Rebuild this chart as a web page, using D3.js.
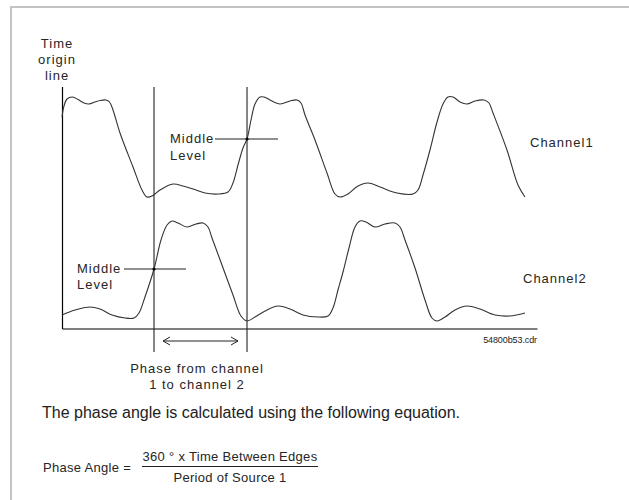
<!DOCTYPE html>
<html>
<head>
<meta charset="utf-8">
<script src="https://cdn.jsdelivr.net/npm/d3@7"></script>
<style>
  html, body { margin: 0; padding: 0; background: #fff; }
  svg { display: block; }
  .lbl { font-family: "Liberation Sans Narrow", "Arial Narrow", "Liberation Sans", Arial, sans-serif; font-size: 13px; letter-spacing: 1px; fill: #262626; }
  .sent { font-family: "Liberation Sans", Arial, sans-serif; font-size: 16px; fill: #222; }
  .eq { font-family: "Liberation Sans Narrow", "Arial Narrow", "Liberation Sans", Arial, sans-serif; font-size: 13px; letter-spacing: 0.3px; fill: #262626; }
</style>
</head>
<body>
<script>
// ---- data ----
const ch1Time  = [0, 0.42, 1.05, 2.25, 3.37, 4.63, 5.68, 6.95, 8.0, 9.26, 10.0, 10.74, 12.21, 14.95, 16.84, 17.89, 18.95, 20.63, 23.37, 25.47, 27.58, 30.1, 32.84, 34.95, 36.0, 37.05, 38.1, 38.95, 39.79, 40.63, 41.68, 42.53, 43.79, 45.89, 48.0, 49.47, 50.32, 51.16, 53.26, 55.79, 57.47, 58.53, 60.21, 62.32, 64.42, 66.95, 70.53, 73.9, 74.95, 76.0, 77.47, 78.95, 80.21, 81.26, 82.32, 83.79, 85.26, 86.95, 88.84, 89.89, 90.74, 93.68, 96.0, 97.47];
const ch1Level = [0.80, 0.91, 0.98, 1.00, 0.975, 0.94, 0.93, 0.95, 0.965, 0.97, 0.95, 0.87, 0.64, 0.30, 0.07, 0.0, 0.01, 0.07, 0.13, 0.11, 0.08, 0.04, 0.03, 0.05, 0.14, 0.32, 0.49, 0.58, 0.77, 0.93, 1.0, 1.0, 0.97, 0.93, 0.96, 0.97, 0.94, 0.82, 0.57, 0.24, 0.03, 0.0, 0.03, 0.11, 0.14, 0.10, 0.04, 0.03, 0.07, 0.22, 0.47, 0.75, 0.93, 1.0, 1.0, 0.95, 0.93, 0.96, 0.97, 0.94, 0.84, 0.47, 0.12, 0.0];
const ch2Time  = [0, 2.74, 5.89, 8.0, 10.53, 13.26, 15.16, 16.21, 17.47, 19.37, 20.84, 22.11, 23.16, 24.42, 26.32, 28.21, 29.68, 30.74, 31.58, 33.68, 36.0, 37.68, 38.95, 40.63, 42.74, 45.47, 48.0, 50.74, 53.89, 56.0, 57.05, 58.1, 59.16, 60.42, 61.68, 62.74, 64.0, 65.89, 68.0, 70.1, 71.16, 72.21, 74.32, 76.42, 77.89, 78.95, 80.63, 82.74, 85.26, 88.0, 91.16, 94.32, 97.47];
const ch2Level = [0.06, 0.11, 0.14, 0.12, 0.06, 0.03, 0.03, 0.08, 0.24, 0.52, 0.81, 0.96, 1.0, 0.98, 0.94, 0.97, 0.98, 0.94, 0.83, 0.56, 0.26, 0.05, 0.0, 0.04, 0.10, 0.15, 0.12, 0.06, 0.04, 0.05, 0.13, 0.31, 0.49, 0.73, 0.94, 1.0, 0.99, 0.94, 0.97, 0.98, 0.94, 0.81, 0.53, 0.21, 0.03, 0.0, 0.04, 0.11, 0.15, 0.12, 0.06, 0.05, 0.08];
const originTime = 0;
const ch1EdgeTime = 38.95;
const ch2EdgeTime = 19.37;
const ch1Middle = 0.58;
const ch2Middle = 0.52;
const channelLabels = ["Channel1", "Channel2"];
const fileLabel = "54800b53.cdr";

// ---- layout ----
const W = 629, H = 500;
const svg = d3.select("body").append("svg").attr("width", W).attr("height", H);

// frame (left + top)
svg.append("path").attr("d", `M11,${H} L11,7 L${W},7`)
  .attr("fill", "none").attr("stroke", "#c3c3c3").attr("stroke-width", 2);

const x = d3.scaleLinear().domain([0, 100]).range([62, 537]);
const y1 = d3.scaleLinear().domain([0, 1]).range([197, 97]);
const y2 = d3.scaleLinear().domain([0, 1]).range([321, 221]);

// time axis
svg.append("g").attr("transform", "translate(0,328.5)")
  .call(d3.axisBottom(x).tickValues([]).tickSizeOuter(0))
  .call(g => g.select(".domain").attr("stroke", "#000").attr("stroke-width", 1.2));

// time origin line
svg.append("line").attr("x1", x(originTime) + 0.5).attr("x2", x(originTime) + 0.5)
  .attr("y1", 87).attr("y2", 329).attr("stroke", "#000").attr("stroke-width", 1.2);

// edge marker lines
[ch2EdgeTime, ch1EdgeTime].forEach(t => {
  svg.append("line").attr("x1", x(t)).attr("x2", x(t))
    .attr("y1", 87).attr("y2", 352).attr("stroke", "#222").attr("stroke-width", 1.1);
});

// waveforms
const line1 = d3.line().x((d, i) => x(ch1Time[i])).y(d => y1(d)).curve(d3.curveCatmullRom.alpha(0.5));
const line2 = d3.line().x((d, i) => x(ch2Time[i])).y(d => y2(d)).curve(d3.curveCatmullRom.alpha(0.5));
svg.append("path").attr("d", line1(ch1Level)).attr("fill", "none").attr("stroke", "#333").attr("stroke-width", 1.1);
svg.append("path").attr("d", line2(ch2Level)).attr("fill", "none").attr("stroke", "#333").attr("stroke-width", 1.1);

// middle level crosshairs
svg.append("line").attr("x1", x(ch1EdgeTime) - 32).attr("x2", x(ch1EdgeTime) + 31)
  .attr("y1", y1(ch1Middle)).attr("y2", y1(ch1Middle)).attr("stroke", "#222").attr("stroke-width", 1.1);
svg.append("circle").attr("cx", x(ch1EdgeTime)).attr("cy", y1(ch1Middle)).attr("r", 1.6).attr("fill", "#000");
svg.append("line").attr("x1", x(ch2EdgeTime) - 30).attr("x2", x(ch2EdgeTime) + 32)
  .attr("y1", y2(ch2Middle)).attr("y2", y2(ch2Middle)).attr("stroke", "#222").attr("stroke-width", 1.1);
svg.append("circle").attr("cx", x(ch2EdgeTime)).attr("cy", y2(ch2Middle)).attr("r", 1.6).attr("fill", "#000");

// double arrow
const ay = 341;
const ax1 = x(ch2EdgeTime) + 9, ax2 = x(ch1EdgeTime) - 9;
svg.append("path")
  .attr("d", `M${ax1},${ay} L${ax2},${ay} M${ax1 + 7},${ay - 4} L${ax1},${ay} L${ax1 + 7},${ay + 4} M${ax2 - 7},${ay - 4} L${ax2},${ay} L${ax2 - 7},${ay + 4}`)
  .attr("fill", "none").attr("stroke", "#222").attr("stroke-width", 1);

// labels
function txt(tx, ty, s, cls, anchor) {
  svg.append("text").attr("class", cls).attr("x", tx).attr("y", ty)
    .attr("text-anchor", anchor || "start").text(s);
}
txt(57, 48, "Time", "lbl", "middle");
txt(57, 64, "origin", "lbl", "middle");
txt(57, 80, "line", "lbl", "middle");
txt(170, 143, "Middle", "lbl");
txt(170, 160, "Level", "lbl");
txt(77, 273, "Middle", "lbl");
txt(77, 289, "Level", "lbl");
txt(530, 147, channelLabels[0], "lbl");
txt(523, 283, channelLabels[1], "lbl");
txt(197, 373, "Phase from channel", "lbl", "middle");
txt(197, 389, "1 to channel 2", "lbl", "middle");
svg.append("text").attr("x", 537).attr("y", 343).attr("text-anchor", "end")
  .attr("font-family", "'Liberation Sans Narrow', 'Liberation Sans', Arial, sans-serif")
  .attr("font-size", 9).attr("letter-spacing", -0.1).attr("fill", "#222").text(fileLabel);

txt(42, 418, "The phase angle is calculated using the following equation.", "sent");
txt(43, 472, "Phase Angle =", "eq");
txt(230, 461, "360 ° x Time Between Edges", "eq", "middle");
svg.append("line").attr("x1", 142).attr("x2", 318).attr("y1", 466.5).attr("y2", 466.5)
  .attr("stroke", "#222").attr("stroke-width", 1);
txt(230, 482, "Period of Source 1", "eq", "middle");
</script>
</body>
</html>
